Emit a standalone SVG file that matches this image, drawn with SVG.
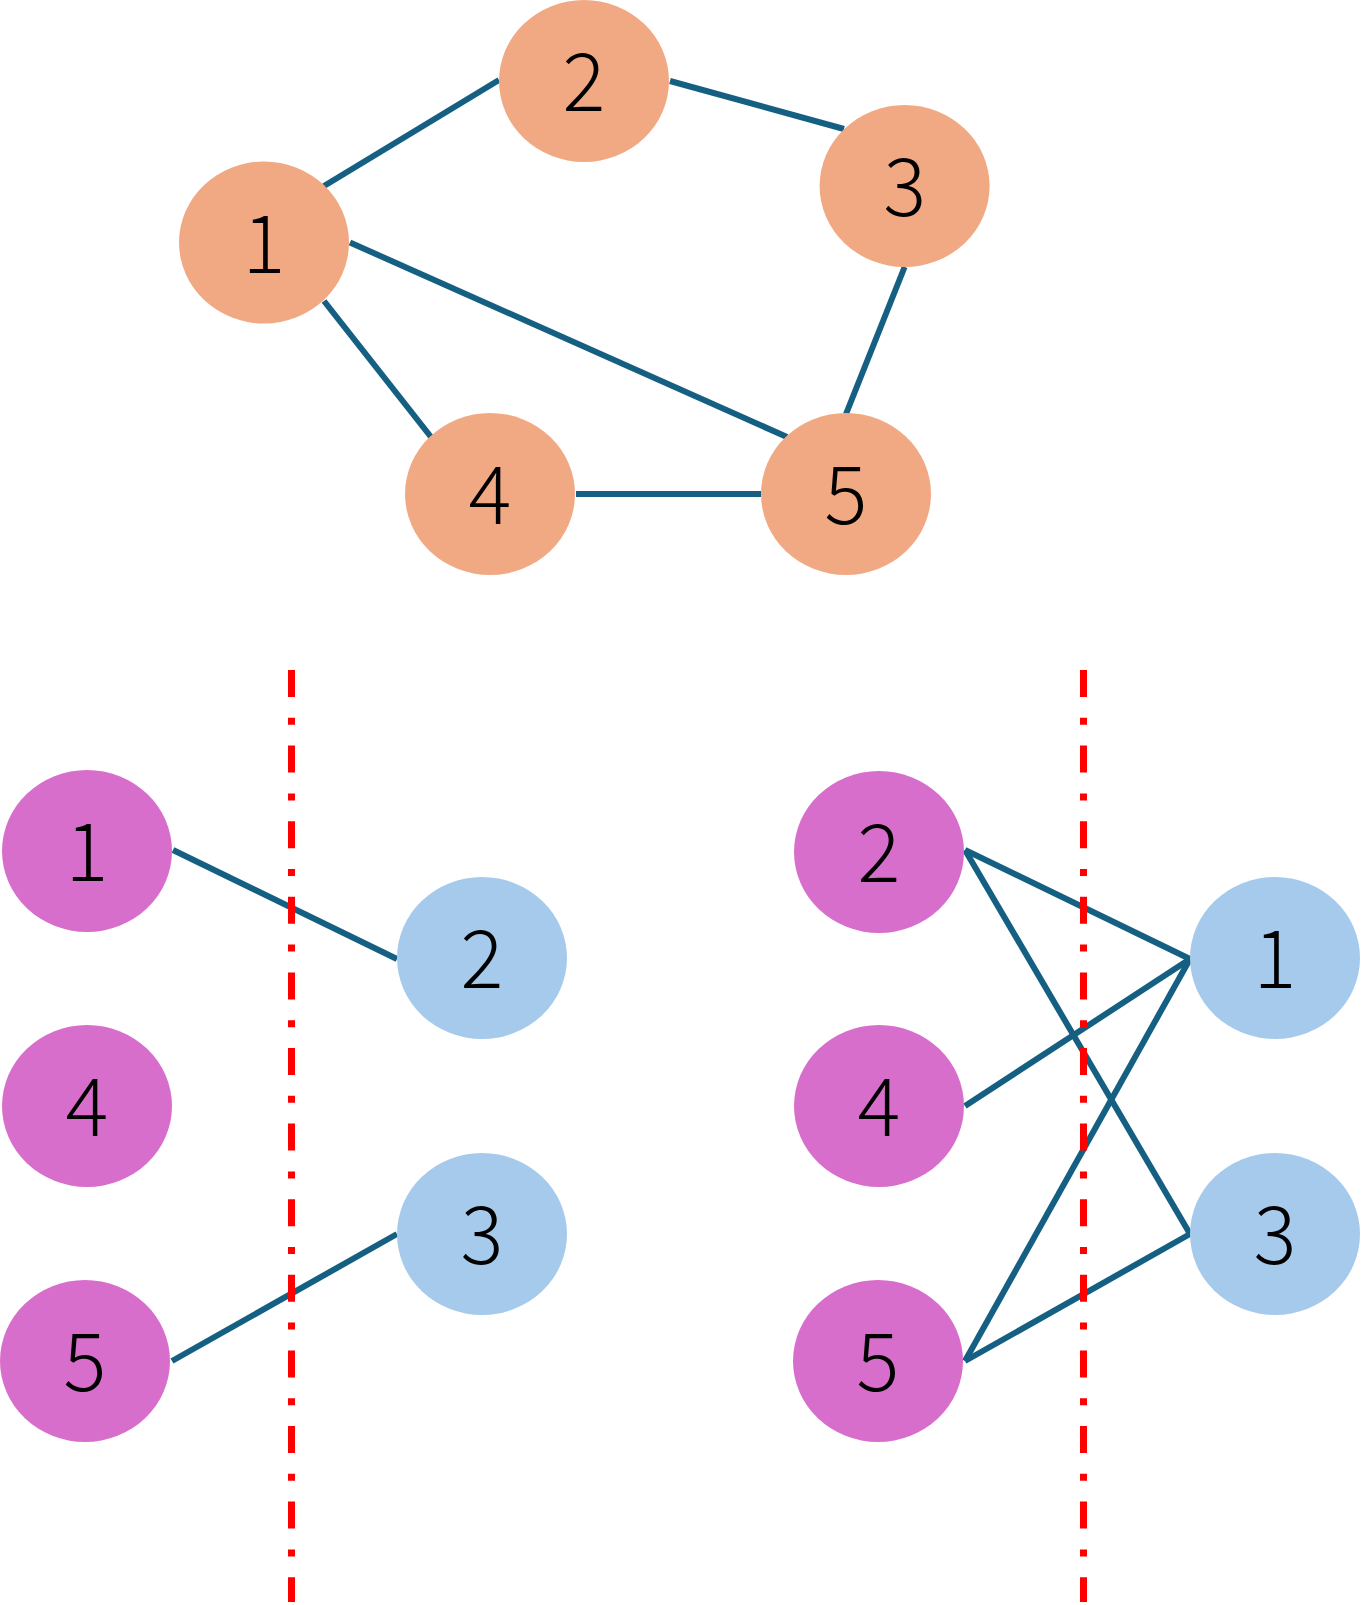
<svg xmlns="http://www.w3.org/2000/svg" width="1361" height="1605" viewBox="0 0 1361 1605">
<style>
.edge{stroke:#156082;stroke-width:6;fill:none}
.cut{stroke:#FF0000;stroke-width:7;fill:none;stroke-dasharray:27 20.8 7 20.8}
.o{fill:#F1A983}
.p{fill:#D86ECC}
.b{fill:#A6CAEC}
text{font-family:"Noto Sans CJK SC","Noto Sans",sans-serif;font-weight:300;font-size:80px;fill:#000;text-anchor:middle}
</style>
<rect width="1361" height="1605" fill="#fff"/>
<g id="connectors">
<line class="edge" x1="324" y1="186" x2="499" y2="80"/>
<line class="edge" x1="670" y1="81" x2="844" y2="129"/>
<line class="edge" x1="350" y1="242.5" x2="787" y2="437"/>
<line class="edge" x1="324" y1="301" x2="431" y2="437"/>
<line class="edge" x1="904.6" y1="267" x2="846" y2="414"/>
<line class="edge" x1="576" y1="494" x2="761" y2="494"/>
<line class="edge" x1="173" y1="850" x2="397" y2="959"/>
<line class="edge" x1="172" y1="1361" x2="397" y2="1234"/>
<line class="edge" x1="965" y1="850" x2="1190" y2="959"/>
<line class="edge" x1="965" y1="850" x2="1190" y2="1234"/>
<line class="edge" x1="965" y1="1106" x2="1190" y2="959"/>
<line class="edge" x1="965" y1="1361" x2="1190" y2="959"/>
<line class="edge" x1="965" y1="1361" x2="1190" y2="1234"/>
</g>
<g id="cuts">
<line class="cut" x1="291.5" y1="670" x2="291.5" y2="1602"/>
<line class="cut" x1="1083.5" y1="670" x2="1083.5" y2="1602"/>
</g>
<g id="t1"><ellipse class="o" cx="264" cy="242.5" rx="85" ry="81"/><text x="264" y="272.5">1</text></g>
<g id="t2"><ellipse class="o" cx="584" cy="81" rx="85" ry="81"/><text x="584" y="111">2</text></g>
<g id="t3"><ellipse class="o" cx="904.6" cy="186" rx="85" ry="81"/><text x="904.6" y="216">3</text></g>
<g id="t4"><ellipse class="o" cx="490" cy="494" rx="85" ry="81"/><text x="490" y="524">4</text></g>
<g id="t5"><ellipse class="o" cx="846" cy="494" rx="85" ry="81"/><text x="846" y="524">5</text></g>
<g id="l1"><ellipse class="p" cx="87" cy="851" rx="85" ry="81"/><text x="87" y="881">1</text></g>
<g id="l4"><ellipse class="p" cx="87" cy="1106" rx="85" ry="81"/><text x="87" y="1136">4</text></g>
<g id="l5"><ellipse class="p" cx="85" cy="1361" rx="85" ry="81"/><text x="85" y="1391">5</text></g>
<g id="lb2"><ellipse class="b" cx="482" cy="958" rx="85" ry="81"/><text x="482" y="988">2</text></g>
<g id="lb3"><ellipse class="b" cx="482" cy="1234" rx="85" ry="81"/><text x="482" y="1264">3</text></g>
<g id="r2"><ellipse class="p" cx="879" cy="852" rx="85" ry="81"/><text x="879" y="882">2</text></g>
<g id="r4"><ellipse class="p" cx="879" cy="1106" rx="85" ry="81"/><text x="879" y="1136">4</text></g>
<g id="r5"><ellipse class="p" cx="878" cy="1361" rx="85" ry="81"/><text x="878" y="1391">5</text></g>
<g id="rb1"><ellipse class="b" cx="1275" cy="958" rx="85" ry="81"/><text x="1275" y="988">1</text></g>
<g id="rb3"><ellipse class="b" cx="1275" cy="1234" rx="85" ry="81"/><text x="1275" y="1264">3</text></g>
</svg>
